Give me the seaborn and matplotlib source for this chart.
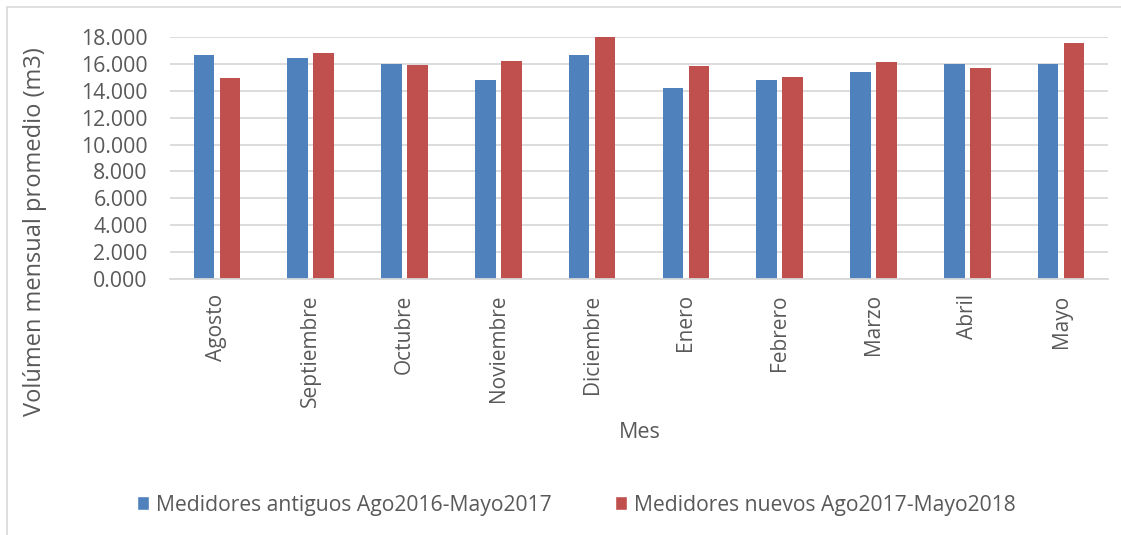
import matplotlib
matplotlib.use("Agg")
import matplotlib.pyplot as plt
from matplotlib.ticker import FuncFormatter, FixedLocator
from matplotlib.lines import Line2D
from matplotlib.patches import Patch
import pandas as pd
import seaborn as sns

# Monthly average volume (m3) per meter generation
meses = ["Agosto", "Septiembre", "Octubre", "Noviembre", "Diciembre",
         "Enero", "Febrero", "Marzo", "Abril", "Mayo"]
antiguos = [16.68, 16.44, 15.96, 14.80, 16.63, 14.23, 14.82, 15.39, 15.99, 16.01]
nuevos = [14.97, 16.83, 15.93, 16.19, 18.00, 15.84, 15.00, 16.16, 15.69, 17.53]
serie_antiguos = "Medidores antiguos Ago2016-Mayo2017"
serie_nuevos = "Medidores nuevos Ago2017-Mayo2018"
y_ticks = [0, 2, 4, 6, 8, 10, 12, 14, 16, 18]

AZUL = "#4F81BD"
ROJO = "#C0504D"
TEXTO = "#595959"
GRIS = "#D9D9D9"

df = pd.DataFrame({
    "Mes": meses * 2,
    "Volumen": antiguos + nuevos,
    "Serie": [serie_antiguos] * len(meses) + [serie_nuevos] * len(meses),
})

sns.set_theme(style="white")
plt.rcParams["font.family"] = ["Open Sans", "DejaVu Sans"]

W, H = 1121, 535
fig = plt.figure(figsize=(W / 100, H / 100), dpi=100)
ax = fig.add_axes([170 / W, 1 - 279 / H, 938 / W, 242 / H])

sns.barplot(data=df, x="Mes", y="Volumen", hue="Serie",
            palette=[AZUL, ROJO], saturation=1, width=0.554, gap=0.21,
            linewidth=0, legend=False, ax=ax)

ax.set_xlim(-0.5, len(meses) - 0.5)
ax.set_ylim(0, 18)
ax.yaxis.set_major_locator(FixedLocator(y_ticks))
ax.yaxis.set_major_formatter(FuncFormatter(lambda v, _: f"{v:.3f}"))
ax.yaxis.grid(True, color=GRIS, lw=1.3)
ax.set_axisbelow(True)
for lado in ["top", "right", "left"]:
    ax.spines[lado].set_visible(False)
ax.spines["bottom"].set_color(GRIS)
ax.spines["bottom"].set_linewidth(1.3)

ax.tick_params(axis="y", length=0, pad=16, labelsize=15.3, labelcolor=TEXTO)
ax.tick_params(axis="x", length=0, pad=11, labelsize=15, labelcolor=TEXTO,
               labelrotation=90)
ax.set_xlabel("")
ax.set_ylabel("")

fig.text(35 / W, 1 - 232 / H, "Volúmen mensual promedio (m3)", rotation=90,
         ha="center", va="center", fontsize=17, color=TEXTO)
fig.text(640 / W, 1 - 433 / H, "Mes", ha="center", va="center",
         fontsize=15.5, color=TEXTO)

handles = [Patch(facecolor=AZUL, label=serie_antiguos),
           Patch(facecolor=ROJO, label=serie_nuevos)]
fig.legend(handles=handles, loc="center", bbox_to_anchor=(576 / W, 1 - 505 / H),
           ncol=2, frameon=False, fontsize=15.2, labelcolor=TEXTO,
           handlelength=0.6, handleheight=0.6, handletextpad=0.3,
           columnspacing=3.0)

# Chart area border (left and top edges)
fig.add_artist(Line2D([6.5 / W, 6.5 / W], [0, 1 - 7 / H],
                      transform=fig.transFigure, color=GRIS, lw=1.2))
fig.add_artist(Line2D([6.5 / W, 1], [1 - 7 / H, 1 - 7 / H],
                      transform=fig.transFigure, color=GRIS, lw=1.2))

fig.savefig("out.png", dpi=100)
